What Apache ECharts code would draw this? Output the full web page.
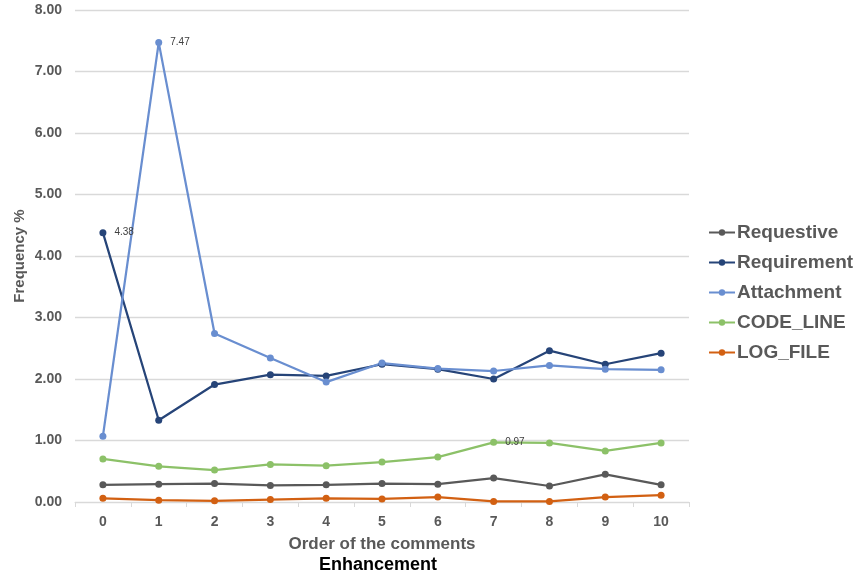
<!DOCTYPE html>
<html>
<head>
<meta charset="utf-8">
<script src="https://cdn.jsdelivr.net/npm/echarts@6/dist/echarts.min.js"></script>
<style>
  html, body { margin: 0; padding: 0; background: #fff; }
  #chart { width: 863px; height: 575px; }
</style>
</head>
<body>
<div id="chart"></div>
<script>
// Comment order positions
const categories = ['0', '1', '2', '3', '4', '5', '6', '7', '8', '9', '10'];

// Frequency (%) of each comment kind by position
const requestive  = [0.28, 0.29, 0.30, 0.27, 0.28, 0.30, 0.29, 0.39, 0.26, 0.45, 0.28];
const requirement = [4.38, 1.33, 1.91, 2.07, 2.05, 2.24, 2.16, 2.00, 2.46, 2.24, 2.42];
const attachment  = [1.07, 7.47, 2.74, 2.34, 1.95, 2.26, 2.17, 2.13, 2.22, 2.16, 2.15];
const codeLine    = [0.70, 0.58, 0.52, 0.61, 0.59, 0.65, 0.73, 0.97, 0.96, 0.83, 0.96];
const logFile     = [0.06, 0.03, 0.02, 0.04, 0.06, 0.05, 0.08, 0.01, 0.01, 0.08, 0.11];

// Points that carry a value label: series name -> index
const labelled = { 'Requirement': 0, 'Attachment': 1, 'CODE_LINE': 7 };

const FONT = '"Liberation Sans", Arial, sans-serif';

function makeSeries(name, values, color) {
  const idx = labelled[name];
  return {
    name: name,
    type: 'line',
    data: values.map((v, i) => i === idx ? {
      value: v,
      label: {
        show: true, position: 'right', distance: 8,
        formatter: (p) => p.value.toFixed(2),
        color: '#404040', fontSize: 10, fontFamily: FONT
      }
    } : v),
    symbol: 'circle',
    symbolSize: 7,
    lineStyle: { color: color, width: 2.25 },
    itemStyle: { color: color },
    emphasis: { disabled: true },
    z: 2
  };
}

const chart = echarts.init(document.getElementById('chart'), null, { renderer: 'canvas' });
chart.setOption({
  animation: false,
  backgroundColor: '#ffffff',
  grid: { left: 75, right: 174, top: 10, bottom: 73, containLabel: false, outerBoundsMode: 'none' },
  title: {
    text: 'Enhancement',
    left: 314, top: 551,
    textStyle: { color: '#000000', fontSize: 18, fontWeight: 'bold', fontFamily: FONT }
  },
  legend: {
    orient: 'vertical',
    left: 703, top: 218,
    itemWidth: 26, itemHeight: 8, itemGap: 11,
    textStyle: { color: '#595959', fontSize: 19, fontWeight: 'bold', fontFamily: FONT, padding: [0, 0, 0, -3] },
    data: ['Requestive', 'Requirement', 'Attachment', 'CODE_LINE', 'LOG_FILE']
  },
  xAxis: {
    type: 'category',
    data: categories,
    boundaryGap: true,
    name: 'Order of the comments',
    nameLocation: 'middle',
    nameGap: 34,
    nameTextStyle: { color: '#595959', fontSize: 17, fontWeight: 'bold', fontFamily: FONT },
    axisLine: { lineStyle: { color: '#d9d9d9', width: 1 } },
    axisTick: { show: true, alignWithLabel: false, length: 5, lineStyle: { color: '#d9d9d9' } },
    axisLabel: { color: '#595959', fontSize: 14, fontWeight: 'bold', fontFamily: FONT, margin: 13 },
    splitLine: { show: false }
  },
  yAxis: {
    type: 'value',
    min: 0, max: 8, interval: 1,
    name: 'Frequency %',
    nameLocation: 'middle',
    nameGap: 48,
    nameMoveOverlap: false,
    nameRotate: 90,
    nameTextStyle: { color: '#595959', fontSize: 15, fontWeight: 'bold', fontFamily: FONT },
    axisLine: { show: false },
    axisTick: { show: false },
    axisLabel: {
      color: '#595959', fontSize: 14, fontWeight: 'bold', fontFamily: FONT, margin: 13,
      formatter: (v) => v.toFixed(2)
    },
    splitLine: { lineStyle: { color: '#d9d9d9', width: 1.3 } }
  },
  series: [
    makeSeries('Requestive', requestive, '#595959'),
    makeSeries('Requirement', requirement, '#264478'),
    makeSeries('Attachment', attachment, '#698ed0'),
    makeSeries('CODE_LINE', codeLine, '#8cc168'),
    makeSeries('LOG_FILE', logFile, '#d26012')
  ]
});
</script>
</body>
</html>
